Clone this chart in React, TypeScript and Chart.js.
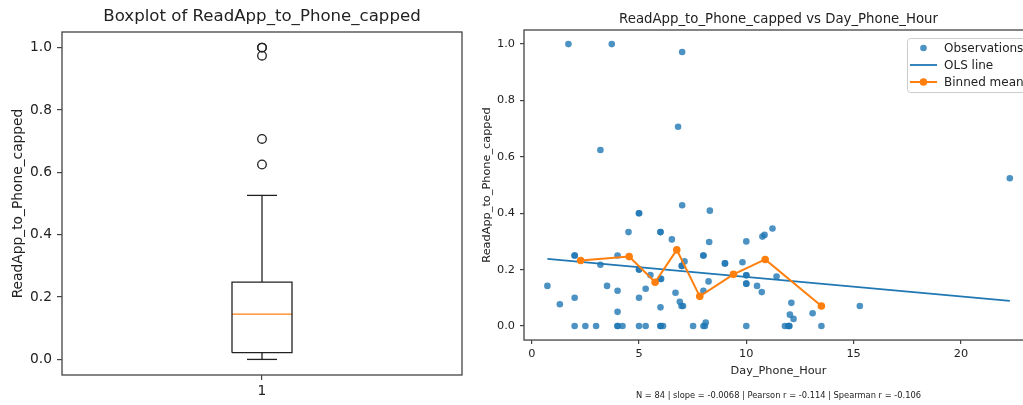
import React, { useEffect, useRef } from "react";
import { Chart, registerables } from "chart.js";
Chart.register(...registerables);

const FONT = "'DejaVu Sans', 'Liberation Sans', sans-serif";
const TEXT = "#222";
const SPINE = "#444";

// ---------- Left: boxplot data ----------
const boxPosition = [1];
const boxQuartiles = [0.0215, 0.145, 0.248]; // Q1, median, Q3
const boxWhiskers = [0.0, 0.526]; // low, high
const boxFliers = [0.625, 0.707, 0.974, 1.0, 1.0];
const boxXTicks = [1];
const boxYTicks = [0, 0.2, 0.4, 0.6, 0.8, 1.0];

// ---------- Right: scatter data ----------
const obsX = [
  1.71, 3.73, 7.01, 6.82, 3.2, 7.01, 8.3, 5.0, 5.0, 4.51, 6.0, 6.0, 6.53, 8.27, 10.0, 2.0,
  4.0, 8.0, 8.0, 7.12, 6.99, 3.2, 9.01, 9.82, 5.0, 5.53, 6.03, 8.24, 10.0, 10.0, 10.0, 0.73,
  3.51, 10.5, 5.31, 4.0, 8.0, 10.72, 6.7, 2.0, 5.0, 6.9, 1.31, 6.98, 7.05, 6.0, 4.0, 8.11,
  22.28, 11.22, 10.75, 10.85, 11.41, 12.1, 12.03, 12.2, 13.09, 15.29,
  5.0, 6.0, 10.0, 9.0, 7.0, 2.0,
  2.0, 2.5, 3.0, 4.0, 4.23, 5.0, 5.31, 6.0, 6.12, 7.52, 8.0, 8.07, 10.0, 11.8, 11.95, 12.0,
  13.5, 4.0, 6.0, 12.0,
];
const obsY = [
  1.0, 1.0, 0.972, 0.707, 0.624, 0.428, 0.409, 0.4, 0.4, 0.333, 0.333, 0.333, 0.307, 0.298, 0.3, 0.25,
  0.25, 0.25, 0.25, 0.229, 0.213, 0.217, 0.222, 0.226, 0.2, 0.181, 0.167, 0.158, 0.18, 0.15, 0.15, 0.142,
  0.142, 0.142, 0.132, 0.125, 0.125, 0.12, 0.118, 0.1, 0.1, 0.086, 0.077, 0.071, 0.071, 0.066, 0.05, 0.012,
  0.524, 0.346, 0.317, 0.323, 0.175, 0.082, 0.04, 0.025, 0.045, 0.071,
  0.2, 0.167, 0.18, 0.222, 0.213, 0.25,
  0, 0, 0, 0, 0, 0, 0, 0, 0, 0, 0, 0, 0, 0, 0, 0,
  0, 0, 0, 0,
];
const olsX = [0.73, 22.28];
const olsY = [0.238, 0.089];
const binX = [2.28, 4.54, 5.75, 6.76, 7.83, 9.4, 10.88, 13.5];
const binY = [0.232, 0.246, 0.155, 0.27, 0.105, 0.183, 0.236, 0.071];
const scatterXTicks = [0, 5, 10, 15, 20];
const scatterYTicks = [0, 0.2, 0.4, 0.6, 0.8, 1.0];
const statsText = "N = 84 | slope = -0.0068 | Pearson r = -0.114 | Spearman r = -0.106";
const legendLabels = ["Observations", "OLS line", "Binned mean"];

const spinePlugin = {
  id: "spines",
  afterDatasetsDraw(chart: any) {
    const { ctx, chartArea } = chart;
    const { left, top, right, bottom } = chartArea;
    ctx.save();
    ctx.strokeStyle = SPINE;
    ctx.lineWidth = 1.3;
    ctx.strokeRect(left, top, right - left, bottom - top);
    ctx.restore();
  },
};

const legendPlugin = {
  id: "mplLegend",
  afterDraw(chart: any) {
    const { ctx } = chart;
    const bx = 437, by = 38, bw = 124, bh = 54;
    ctx.save();
    ctx.fillStyle = "rgba(255,255,255,0.85)";
    ctx.strokeStyle = "#cccccc";
    ctx.lineWidth = 1;
    ctx.beginPath();
    (ctx as any).roundRect(bx + 0.5, by + 0.5, bw, bh, 3);
    ctx.fill();
    ctx.stroke();
    ctx.font = `12px ${FONT}`;
    ctx.textBaseline = "middle";
    ctx.textAlign = "left";
    const rows = [48, 65, 82];
    legendLabels.forEach((label, i) => {
      const ds = chart.data.datasets.find((d: any) => d.label === label);
      const y = rows[i];
      if (ds.showLine) {
        ctx.strokeStyle = ds.borderColor;
        ctx.lineWidth = ds.borderWidth;
        ctx.beginPath();
        ctx.moveTo(440, y);
        ctx.lineTo(467, y);
        ctx.stroke();
      }
      if (ds.pointRadius > 0) {
        ctx.fillStyle = ds.pointBackgroundColor || ds.backgroundColor;
        ctx.beginPath();
        ctx.arc(453.5, y, ds.pointRadius, 0, Math.PI * 2);
        ctx.fill();
      }
      ctx.fillStyle = TEXT;
      ctx.fillText(label, 474, y + 0.5);
    });
    ctx.restore();
  },
};

function BoxChart() {
  const ref = useRef<HTMLCanvasElement>(null);
  useEffect(() => {
    const c = boxPosition[0];
    const [q1, med, q3] = boxQuartiles;
    const [wlo, whi] = boxWhiskers;
    const hb = 0.075, hc = 0.0375;
    const seg = (pts: number[][], color = TEXT) => ({
      data: pts.map(([x, y]) => ({ x, y })),
      showLine: true,
      borderColor: color,
      borderWidth: 1.3,
      borderJoinStyle: "miter",
      pointRadius: 0,
      fill: false,
    });
    const chart = new Chart(ref.current!, {
      type: "scatter",
      data: {
        datasets: [
          seg([[c - hb, q1], [c + hb, q1], [c + hb, q3], [c - hb, q3], [c - hb, q1]]),
          seg([[c, q1], [c, wlo]]),
          seg([[c - hc, wlo], [c + hc, wlo]]),
          seg([[c, q3], [c, whi]]),
          seg([[c - hc, whi], [c + hc, whi]]),
          seg([[c - hb, med], [c + hb, med]], "#ff7f0e"),
          {
            data: boxFliers.map((y) => ({ x: c, y })),
            showLine: false,
            pointRadius: 4.3,
            pointBorderColor: TEXT,
            pointBackgroundColor: "rgba(0,0,0,0)",
            pointBorderWidth: 1.3,
          },
        ] as any,
      },
      options: {
        animation: false,
        responsive: false,
        devicePixelRatio: 1,
        layout: { padding: { left: 0, right: 8, top: 0, bottom: 0 } },
        plugins: {
          legend: { display: false },
          tooltip: { enabled: false },
          title: {
            display: true,
            text: "Boxplot of ReadApp_to_Phone_capped",
            fullSize: false,
            color: TEXT,
            font: { family: FONT, size: 16.6, weight: "normal" },
            padding: { top: 7, bottom: 5.08 },
          },
        },
        scales: {
          x: {
            type: "linear",
            min: 0.5,
            max: 1.5,
            afterBuildTicks: (s: any) => { s.ticks = boxXTicks.map((v) => ({ value: v })); },
            afterFit: (s: any) => { s.height = 30; },
            ticks: { color: TEXT, font: { family: FONT, size: 13.8 }, padding: 3, autoSkip: false, maxRotation: 0, callback: (v: any) => String(v) },
            grid: { drawOnChartArea: false, drawTicks: true, tickLength: 5, color: SPINE, lineWidth: 1.2 },
            border: { display: false },
          },
          y: {
            type: "linear",
            min: -0.05,
            max: 1.05,
            afterBuildTicks: (s: any) => { s.ticks = boxYTicks.map((v) => ({ value: v })); },
            afterFit: (s: any) => { s.width = 62; },
            ticks: { color: TEXT, font: { family: FONT, size: 13.8 }, padding: 5, autoSkip: false, callback: (v: any) => Number(v).toFixed(1) },
            grid: { drawOnChartArea: false, drawTicks: true, tickLength: 5, color: SPINE, lineWidth: 1.2 },
            border: { display: false },
            title: {
              display: true,
              text: "ReadApp_to_Phone_capped",
              color: TEXT,
              font: { family: FONT, size: 13.8 },
              padding: { top: 9.7, bottom: 0 },
            },
          },
        },
      } as any,
      plugins: [spinePlugin],
    });
    return () => chart.destroy();
  }, []);
  return (
    <canvas
      ref={ref}
      width={470}
      height={405}
      style={{ position: "absolute", left: 0, top: 0, width: 470, height: 405 }}
    />
  );
}

function ScatterChart() {
  const ref = useRef<HTMLCanvasElement>(null);
  useEffect(() => {
    const chart = new Chart(ref.current!, {
      type: "scatter",
      data: {
        datasets: [
          {
            label: "Binned mean",
            data: binX.map((x, i) => ({ x, y: binY[i] })),
            showLine: true,
            borderColor: "#ff7f0e",
            borderWidth: 2,
            pointRadius: 3.8,
            pointBackgroundColor: "#ff7f0e",
            pointBorderWidth: 0,
            order: 1,
          },
          {
            label: "OLS line",
            data: olsX.map((x, i) => ({ x, y: olsY[i] })),
            showLine: true,
            borderColor: "#1f77b4",
            borderWidth: 1.8,
            pointRadius: 0,
            order: 2,
          },
          {
            label: "Observations",
            data: obsX.map((x, i) => ({ x, y: obsY[i] })),
            showLine: false,
            pointRadius: 3.3,
            backgroundColor: "rgba(31,119,180,0.8)",
            pointBackgroundColor: "rgba(31,119,180,0.8)",
            pointBorderWidth: 0,
            borderWidth: 0,
            order: 3,
          },
        ] as any,
      },
      options: {
        animation: false,
        responsive: false,
        devicePixelRatio: 1,
        layout: { padding: { left: 0, right: 17, top: 0, bottom: 0 } },
        plugins: {
          legend: { display: false },
          tooltip: { enabled: false },
          title: {
            display: true,
            text: "ReadApp_to_Phone_capped vs Day_Phone_Hour",
            fullSize: false,
            color: TEXT,
            font: { family: FONT, size: 13.3, weight: "normal" },
            padding: { top: 12, bottom: 2.04 },
          },
          subtitle: {
            display: true,
            position: "bottom",
            text: statsText,
            fullSize: false,
            color: TEXT,
            font: { family: FONT, size: 8.3, weight: "normal" },
            padding: { top: 0, bottom: 4 },
          },
        },
        scales: {
          x: {
            type: "linear",
            min: -0.36,
            max: 23.36,
            afterBuildTicks: (s: any) => { s.ticks = scatterXTicks.map((v) => ({ value: v })); },
            afterFit: (s: any) => { s.height = 51; },
            ticks: { color: TEXT, font: { family: FONT, size: 11.3 }, padding: 3, autoSkip: false, maxRotation: 0, callback: (v: any) => String(v) },
            grid: { drawOnChartArea: false, drawTicks: true, tickLength: 4, color: SPINE, lineWidth: 1.2 },
            border: { display: false },
            title: {
              display: true,
              text: "Day_Phone_Hour",
              color: TEXT,
              font: { family: FONT, size: 11.3 },
              padding: { top: 0, bottom: 13.2 },
            },
          },
          y: {
            type: "linear",
            min: -0.05,
            max: 1.05,
            afterBuildTicks: (s: any) => { s.ticks = scatterYTicks.map((v) => ({ value: v })); },
            afterFit: (s: any) => { s.width = 54; },
            ticks: { color: TEXT, font: { family: FONT, size: 11.3 }, padding: 5, autoSkip: false, callback: (v: any) => Number(v).toFixed(1) },
            grid: { drawOnChartArea: false, drawTicks: true, tickLength: 4, color: SPINE, lineWidth: 1.2 },
            border: { display: false },
            title: {
              display: true,
              text: "ReadApp_to_Phone_capped",
              color: TEXT,
              font: { family: FONT, size: 11.3 },
              padding: { top: 10.2, bottom: 0 },
            },
          },
        },
      } as any,
      plugins: [spinePlugin, legendPlugin],
    });
    return () => chart.destroy();
  }, []);
  return (
    <canvas
      ref={ref}
      width={580}
      height={405}
      style={{ position: "absolute", left: 470, top: 0, width: 580, height: 405 }}
    />
  );
}

export default function App() {
  return (
    <div
      style={{
        position: "fixed",
        left: 0,
        top: 0,
        width: 1023,
        height: 405,
        overflow: "hidden",
        background: "#ffffff",
      }}
    >
      <BoxChart />
      <ScatterChart />
    </div>
  );
}
